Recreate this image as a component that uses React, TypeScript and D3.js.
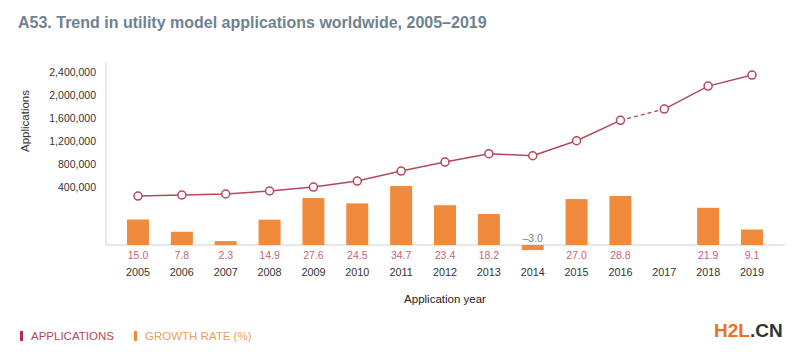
import * as d3 from 'd3';

const years = ['2005', '2006', '2007', '2008', '2009', '2010', '2011', '2012', '2013', '2014', '2015', '2016', '2017', '2018', '2019'];
const applications = [256000, 274000, 291000, 343000, 412000, 516000, 689000, 845000, 989000, 954000, 1214000, 1567000, 1763000, 2161000, 2352000];
const growthRate: (number | null)[] = [15.0, 7.8, 2.3, 14.9, 27.6, 24.5, 34.7, 23.4, 18.2, -3.0, 27.0, 28.8, null, 21.9, 9.1];
const appTicks = [400000, 800000, 1200000, 1600000, 2000000, 2400000];

const FONT = '"Liberation Sans", Arial, sans-serif';
const LINE = '#b5485a';
const BAR = '#f08a3c';

export default function App() {
  const x = d3.scalePoint<string>().domain(years).range([138, 752]);
  const yApp = d3.scaleLinear().domain([0, 2400000]).range([210.8, 72.3]);
  const yGrowth = d3.scaleLinear().domain([0, 35]).range([245, 185.5]);
  const fmt = d3.format(',');
  const barW = 22;

  const pts = years.map((y, i) => [x(y) ?? 0, yApp(applications[i])] as [number, number]);
  const line = d3.line();
  // 2016 -> 2017 is drawn dashed
  const solidA = line(pts.slice(0, 12)) ?? '';
  const dashed = line(pts.slice(11, 13)) ?? '';
  const solidB = line(pts.slice(12)) ?? '';

  return (
    <svg width={800} height={352} style={{ position: 'absolute', left: 0, top: 0, background: '#fff' }} fontFamily={FONT}>
      <rect width={800} height={352} fill="#fff" />
      <text x={18} y={28} fontSize={16} fontWeight="bold" fill="#6f8290">
        A53. Trend in utility model applications worldwide, 2005–2019
      </text>

      {/* axes */}
      <line x1={106} x2={106} y1={62} y2={245} stroke="#d0d0d0" />
      <line x1={106} x2={785} y1={245} y2={245} stroke="#d0d0d0" />
      {appTicks.map((t) => (
        <text key={t} x={96} y={yApp(t)} dy="0.35em" textAnchor="end" fontSize={10.5} fill="#333">
          {fmt(t)}
        </text>
      ))}
      <text transform="translate(29,121) rotate(-90)" textAnchor="middle" fontSize={11.5} fill="#333">
        Applications
      </text>

      {/* growth bars */}
      {years.map((y, i) => {
        const g = growthRate[i];
        if (g === null) return null;
        const cx = x(y) ?? 0;
        const top = Math.min(yGrowth(g), yGrowth(0));
        const h = Math.abs(yGrowth(g) - yGrowth(0));
        return <rect key={y} x={cx - barW / 2} y={top} width={barW} height={h} fill={BAR} />;
      })}

      {/* growth labels & years */}
      {years.map((y, i) => {
        const g = growthRate[i];
        const cx = x(y) ?? 0;
        return (
          <g key={y}>
            {g !== null && (
              <text x={cx} y={g < 0 ? 242 : 259} textAnchor="middle" fontSize={10.5} fill={g < 0 ? '#9a7080' : '#c8627a'}>
                {g < 0 ? `–${Math.abs(g).toFixed(1)}` : g.toFixed(1)}
              </text>
            )}
            <text x={cx} y={276} textAnchor="middle" fontSize={10.8} fill="#333">
              {y}
            </text>
          </g>
        );
      })}
      <text x={445} y={303} textAnchor="middle" fontSize={11.5} fill="#222">
        Application year
      </text>

      {/* applications line */}
      <path d={solidA} fill="none" stroke={LINE} strokeWidth={1.5} />
      <path d={dashed} fill="none" stroke={LINE} strokeWidth={1.5} strokeDasharray="4,3" />
      <path d={solidB} fill="none" stroke={LINE} strokeWidth={1.5} />
      {pts.map(([px, py], i) => (
        <circle key={i} cx={px} cy={py} r={4} fill="#fff" stroke={LINE} strokeWidth={1.5} />
      ))}

      {/* legend */}
      <rect x={20} y={331} width={3} height={10} fill="#b03040" />
      <text x={31} y={340} fontSize={11.5} fill="#b5485a">APPLICATIONS</text>
      <rect x={134} y={331} width={3} height={10} fill={BAR} />
      <text x={145} y={340} fontSize={11.5} fill="#e8a060">GROWTH RATE (%)</text>

      {/* watermark */}
      <text x={714} y={337} fontSize={19} fontWeight="bold">
        <tspan fill="#f07020">H2L</tspan>
        <tspan fill="#333">.CN</tspan>
      </text>
    </svg>
  );
}
